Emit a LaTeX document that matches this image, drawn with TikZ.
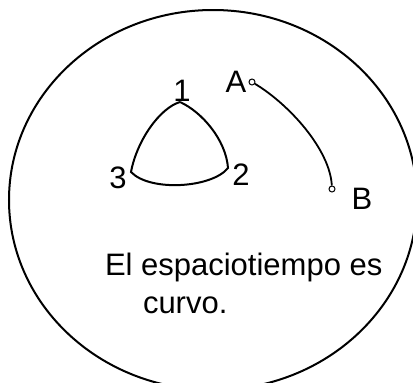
\documentclass[tikz,border=0pt]{standalone}
\usepackage{fontspec}
\setmainfont{Liberation Sans}
\usepackage{tikz}
\usetikzlibrary{positioning}
\tikzset{
  lbl/.style={inner sep=0pt,font=\fontsize{31}{37}\selectfont},
  endpt/.style={circle,draw,fill=white,line width=1pt,inner sep=0pt,minimum size=6pt},
}
\begin{document}
\begin{tikzpicture}[x=1pt,y=-1pt,line width=2pt]
\useasboundingbox (0,0) rectangle (413,383);
\clip (0,0) rectangle (413,383);
% spacetime
\draw (213,200) ellipse [x radius=204,y radius=190];
% curved triangle
\coordinate (v1) at (180,102);
\coordinate (v2) at (228,168);
\coordinate (v3) at (131,172);
\draw (v1) .. controls (202,112) and (226,140) .. (v2)
      .. controls (212,188) and (150,192) .. (v3)
      .. controls (137,140) and (160,108) .. (v1);
\node[lbl] (n1) at (182,91) {1};
\node[lbl] (n2) at (241,175) {2};
\node[lbl] (n3) at (118,178) {3};
% geodesic A-B
\node[endpt] (a) at (252,82) {};
\node[endpt] (b) at (332,189) {};
\draw[line width=1.8pt] (a) .. controls (290,105) and (330,150) .. (b);
\node[lbl] (la) at (236,82) {A};
\node[lbl] (lb) at (362,199) {B};
% caption
\node[lbl,anchor=base west] (t1) at (104,275) {El espaciotiempo es};
\node[lbl,anchor=base west] (t2) at (142,313) {curvo.};
\end{tikzpicture}
\end{document}
